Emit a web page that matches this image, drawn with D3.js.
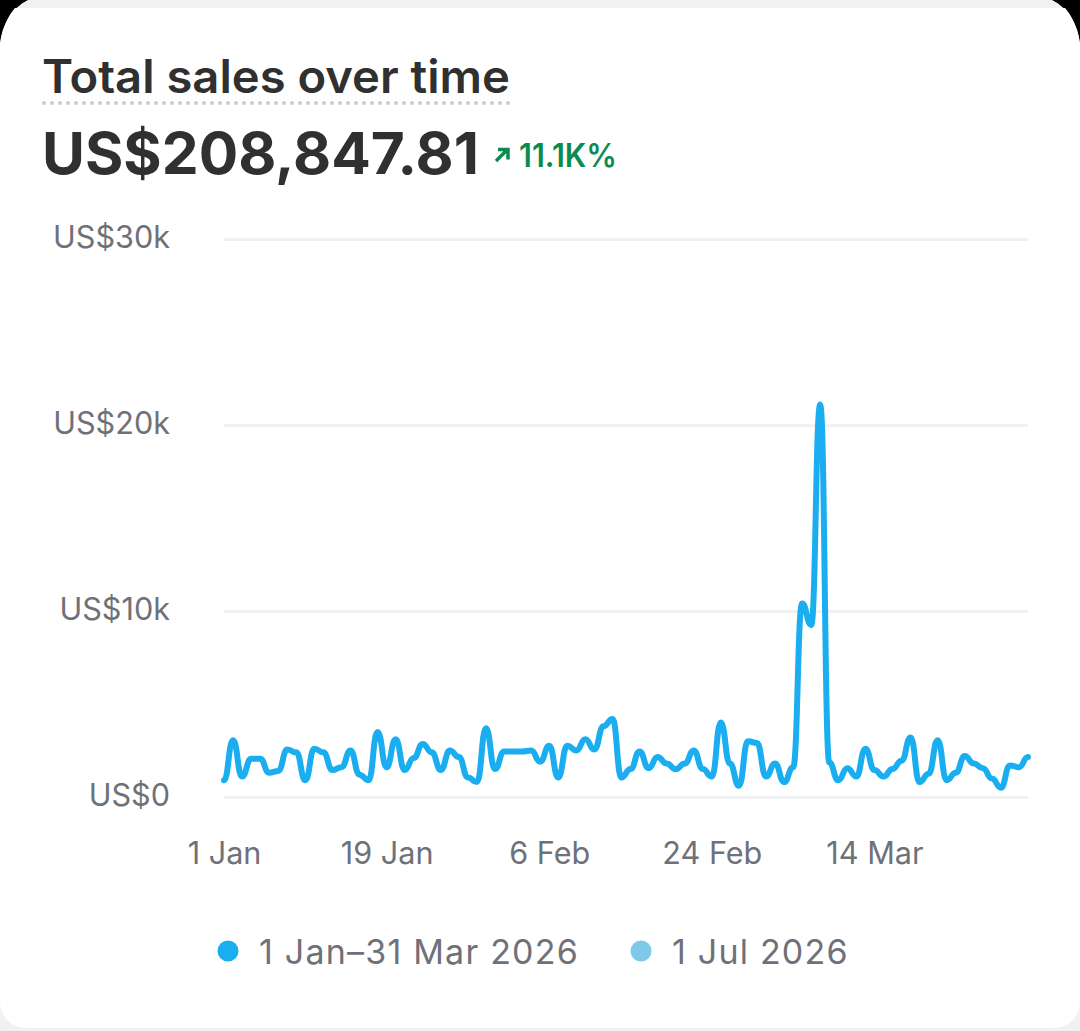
<!DOCTYPE html>
<html>
<head>
<meta charset="utf-8">
<script src="https://cdn.jsdelivr.net/npm/d3@7"></script>
<style>
  html, body { margin: 0; padding: 0; background: #000; }
  svg { display: block; font-family: Inter, sans-serif; }
</style>
</head>
<body>
<svg id="chart" width="1080" height="1031"></svg>
<script>
// daily sales, US$ thousands, 1 Jan - 31 Mar 2026
var salesValues = [
    0.9, 3.05, 1.1, 2.05, 2.05, 1.3, 1.4, 2.55, 2.4, 0.9,
    2.6, 2.4, 1.45, 1.6, 2.5, 1.2, 0.9, 3.5, 1.6, 3.1,
    1.45, 2.1, 2.85, 2.4, 1.45, 2.5, 2.15, 1.05, 0.8, 3.7,
    1.5, 2.45, 2.45, 2.45, 2.5, 1.9, 2.75, 1.05, 2.75, 2.5,
    3.1, 2.55, 3.8, 4.2, 1.05, 1.5, 2.45, 1.55, 2.15, 1.8,
    1.5, 1.8, 2.5, 1.5, 1.1, 4.0, 1.8, 0.6, 3.0, 2.9,
    1.1, 1.8, 0.8, 1.6, 10.4, 9.25, 21.1, 1.85, 0.9, 1.55,
    1.1, 2.6, 1.45, 1.1, 1.5, 1.95, 3.2, 0.8, 1.25, 3.05,
    0.9, 1.3, 2.2, 1.8, 1.55, 1.0, 0.5, 1.7, 1.6, 2.15
]
var yTicks = [0, 10, 20, 30]
var yTickLabels = ["US$0", "US$10k", "US$20k", "US$30k"]
var xTickDays = [0, 18, 36, 54, 72]
var xTickLabels = ["1 Jan", "19 Jan", "6 Feb", "24 Feb", "14 Mar"]
var legendLabels = ["1 Jan–31 Mar 2026", "1 Jul 2026"]
var legendColors = ["#1aaef0", "#7ec8e8"]

var svg = d3.select("#chart")

// phone screenshot frame: grey strip behind a rounded white card
svg.append("rect").attr("width", 1080).attr("height", 1031).attr("fill", "#000")
svg.append("path")
    .attr("d", "M0,44 C2,24 12,8 28,0 H1052 C1068,8 1078,24 1080,44 V1031 H0 Z")
    .attr("fill", "#f1f1f1")
svg.append("path")
    .attr("d", "M0,44 C2,30 7,17 15,8 H1065 C1073,17 1078,30 1080,44 V1002 A26,26 0 0 1 1054,1028 H26 A26,26 0 0 1 0,1002 Z")
    .attr("fill", "#fff")

var x = d3.scaleLinear().domain([0, salesValues.length - 1]).range([224, 1028])
var y = d3.scaleLinear().domain([0, 30]).range([797, 239])

// header
svg.append("text").attr("x", 42).attr("y", 93)
    .attr("font-size", 46).attr("font-weight", 600).attr("fill", "#303030")
    .attr("textLength", 468).attr("lengthAdjust", "spacingAndGlyphs")
    .text("Total sales over time")
svg.append("line")
    .attr("x1", 44).attr("x2", 510).attr("y1", 103).attr("y2", 103)
    .attr("stroke", "#cccccc").attr("stroke-width", 4)
    .attr("stroke-linecap", "round").attr("stroke-dasharray", "0 8")
svg.append("text").attr("x", 42).attr("y", 174)
    .attr("font-size", 58).attr("font-weight", 700).attr("fill", "#303030")
    .attr("textLength", 437).attr("lengthAdjust", "spacingAndGlyphs")
    .text("US$208,847.81")
svg.append("path")
    .attr("d", "M496,161 L507,150 M498,149.5 H508 V159.5")
    .attr("fill", "none").attr("stroke", "#0c8a50").attr("stroke-width", 3.5)
svg.append("text").attr("x", 519).attr("y", 167)
    .attr("font-size", 32).attr("font-weight", 600).attr("fill", "#0c8a50")
    .attr("textLength", 98).attr("lengthAdjust", "spacingAndGlyphs")
    .text("11.1K%")

// y axis
var yAxis = d3.axisLeft(y)
    .tickValues(yTicks)
    .tickSize(-804)
    .tickPadding(54)
    .tickFormat(function (d, i) { return yTickLabels[i] })
var gy = svg.append("g").attr("transform", "translate(224,0)").call(yAxis)
gy.select(".domain").remove()
gy.selectAll("line").attr("stroke", "#f0f1f2").attr("stroke-width", 3)
gy.selectAll("text").attr("font-family", "Inter, sans-serif")
    .attr("font-size", 30.6).attr("fill", "#6f7179").attr("dy", "0.29em")

// x axis
var xAxis = d3.axisBottom(x)
    .tickValues(xTickDays)
    .tickSize(0)
    .tickPadding(45)
    .tickFormat(function (d, i) { return xTickLabels[i] })
var gx = svg.append("g").attr("transform", "translate(0,797)").call(xAxis)
gx.select(".domain").remove()
gx.selectAll("text").attr("font-family", "Inter, sans-serif")
    .attr("font-size", 30.6).attr("fill", "#6f7179")

// sales line
var line = d3.line()
    .x(function (d, i) { return x(i) })
    .y(function (d) { return y(d) })
    .curve(d3.curveBumpX)
svg.append("path")
    .datum(salesValues)
    .attr("d", line)
    .attr("fill", "none")
    .attr("stroke", legendColors[0])
    .attr("stroke-width", 6)
    .attr("stroke-linejoin", "round")
    .attr("stroke-linecap", "round")

// legend
var legendX = [228, 641]
var legend = svg.selectAll(".legend")
    .data(legendLabels)
    .enter()
    .append("g")
    .attr("class", "legend")
    .attr("transform", function (d, i) { return "translate(" + legendX[i] + ",951)" })
legend.append("circle")
    .attr("r", 10.5)
    .attr("fill", function (d, i) { return legendColors[i] })
legend.append("text")
    .attr("x", 31).attr("y", 13)
    .attr("font-size", 34).attr("fill", "#6f7179")
    .attr("letter-spacing", 1.2)
    .text(function (d) { return d })
</script>
</body>
</html>
